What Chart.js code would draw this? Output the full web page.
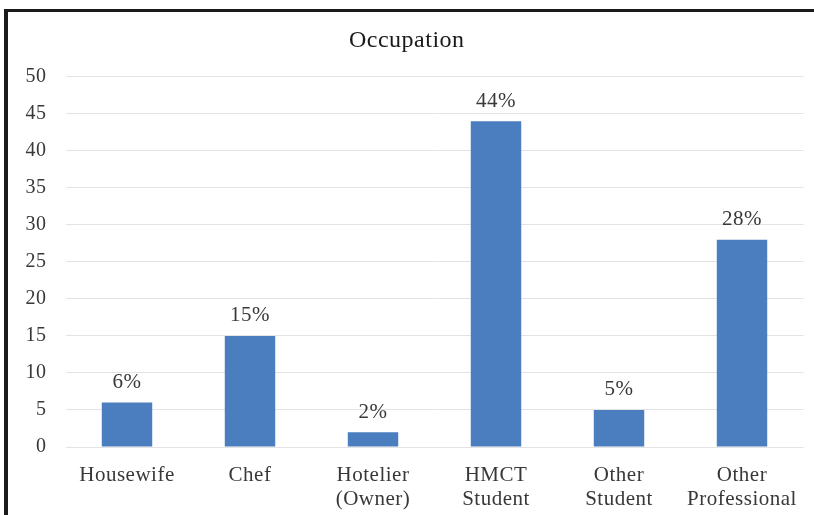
<!DOCTYPE html>
<html>
<head>
<meta charset="utf-8">
<script src="https://cdn.jsdelivr.net/npm/chart.js@4/dist/chart.umd.min.js"></script>
<style>
  html, body { margin: 0; padding: 0; background: #fff; }
  #wrap { position: relative; width: 814px; height: 515px; }
  #frame {
    position: absolute; left: 4px; top: 9px; right: 0; bottom: 0;
    border-left: 4px solid #1a1a1a; border-top: 3px solid #1a1a1a;
    pointer-events: none;
  }
  canvas { position: absolute; left: 0; top: 0; }
</style>
</head>
<body>
<div id="wrap">
  <canvas id="c" width="814" height="515"></canvas>
  <div id="frame"></div>
</div>
<script>
const categories = [
  'Housewife', 'Chef', ['Hotelier', '(Owner)'], ['HMCT', 'Student'],
  ['Other', 'Student'], ['Other', 'Professional']
];
const shares = [6, 15, 2, 44, 5, 28];
const yTicks = [0, 5, 10, 15, 20, 25, 30, 35, 40, 45, 50];

const serif = '"Liberation Serif", "Times New Roman", serif';

// Slightly wider letter spacing for all chart text
const spacing = {
  id: 'spacing',
  beforeDraw(chart) { chart.ctx.letterSpacing = '0.5px'; }
};

// Writes the percentage above each bar
const valueLabels = {
  id: 'valueLabels',
  afterDatasetsDraw(chart) {
    const ctx = chart.ctx;
    const meta = chart.getDatasetMeta(0);
    ctx.save();
    ctx.font = '21px ' + serif;
    ctx.fillStyle = '#383838';
    ctx.textAlign = 'center';
    ctx.textBaseline = 'middle';
    meta.data.forEach((bar, i) => {
      ctx.fillText(shares[i] + '%', bar.x, bar.y - 20);
    });
    ctx.restore();
  }
};

new Chart(document.getElementById('c'), {
  type: 'bar',
  data: {
    labels: categories,
    datasets: [{
      data: shares,
      backgroundColor: '#4a7ebf',
      borderWidth: 0,
      categoryPercentage: 1,
      barPercentage: 0.41
    }]
  },
  options: {
    responsive: false,
    animation: false,
    layout: { padding: { left: 10, right: 10.5, top: 12, bottom: 0 } },
    plugins: {
      legend: { display: false },
      tooltip: { enabled: false },
      title: {
        display: true,
        text: 'Occupation',
        color: '#1a1a1a',
        font: { family: serif, size: 24, weight: 'normal', lineHeight: 1.2 },
        padding: { top: 14, bottom: 22 }
      }
    },
    scales: {
      x: {
        grid: { display: false },
        border: { display: false },
        ticks: {
          color: '#383838',
          font: { family: serif, size: 21, lineHeight: 1.15 },
          padding: 8,
          maxRotation: 0,
          autoSkip: false
        },
        afterFit(scale) { scale.height = 68; }
      },
      y: {
        min: 0,
        max: 50,
        afterBuildTicks(scale) { scale.ticks = yTicks.map(v => ({ value: v })); },
        grid: { color: '#e3e3e3', drawTicks: false, lineWidth: 1 },
        border: { display: false },
        ticks: {
          color: '#383838',
          font: { family: serif, size: 20 },
          padding: 19
        },
        afterFit(scale) { scale.width = 55.5; }
      }
    }
  },
  plugins: [spacing, valueLabels]
});
</script>
</body>
</html>
